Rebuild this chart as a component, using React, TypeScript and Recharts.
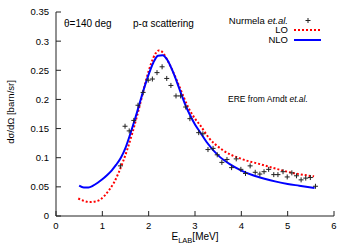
import React from 'react';
import { ComposedChart, Line, Scatter, XAxis, YAxis } from 'recharts';

// Nurmela et.al. data points (E_LAB in MeV, cross section in barn/sr)
const dataEnergy = [
  1.39, 1.49, 1.58, 1.68, 1.77, 1.88, 1.99, 2.08, 2.18, 2.29, 2.39, 2.48, 2.59, 2.69,
  2.8, 2.89, 3.08, 3.17, 3.28, 3.39, 3.48, 3.58, 3.69, 3.79, 3.89, 3.99, 4.09, 4.19,
  4.3, 4.4, 4.49, 4.59, 4.7, 4.79, 4.9, 4.99, 5.09, 5.19, 5.29, 5.39, 5.49, 5.6,
];
const dataSigma = [
  0.086, 0.154, 0.146, 0.164, 0.19, 0.212, 0.233, 0.235, 0.246, 0.256, 0.236, 0.224, 0.206, 0.206,
  0.187, 0.167, 0.143, 0.141, 0.114, 0.116, 0.105, 0.092, 0.097, 0.083, 0.098, 0.08, 0.073, 0.086,
  0.075, 0.072, 0.076, 0.08, 0.071, 0.071, 0.076, 0.067, 0.074, 0.069, 0.062, 0.065, 0.066, 0.051,
];

// LO curve
const loEnergy = [
  0.48, 0.6, 0.72, 0.85, 0.95, 1.05, 1.15, 1.25, 1.35, 1.45, 1.55, 1.65, 1.75, 1.85, 1.95,
  2.05, 2.15, 2.22, 2.3, 2.4, 2.5, 2.6, 2.7, 2.85, 3.0, 3.1, 3.3, 3.6, 4.0, 4.4, 4.8, 5.1, 5.57,
];
const loSigma = [
  0.03, 0.026, 0.024, 0.025, 0.028, 0.035, 0.045, 0.057, 0.074, 0.094, 0.117, 0.143, 0.172, 0.203, 0.235,
  0.261, 0.279, 0.284, 0.281, 0.268, 0.252, 0.234, 0.215, 0.187, 0.167, 0.157, 0.134, 0.113, 0.098, 0.089, 0.08, 0.074, 0.068,
];

// NLO curve
const nloEnergy = [
  0.5, 0.6, 0.7, 0.8, 0.9, 1.0, 1.1, 1.2, 1.3, 1.4, 1.5, 1.6, 1.7, 1.8, 1.9, 2.0, 2.1, 2.2,
  2.3, 2.4, 2.5, 2.6, 2.7, 2.8, 2.9, 3.0, 3.1, 3.25, 3.5, 3.75, 4.0, 4.25, 4.5, 4.75, 5.0, 5.25, 5.58,
];
const nloSigma = [
  0.052, 0.049, 0.049, 0.052, 0.057, 0.063, 0.07, 0.078, 0.088, 0.1, 0.117, 0.14, 0.165, 0.192, 0.219, 0.243, 0.263, 0.275,
  0.276, 0.268, 0.252, 0.232, 0.21, 0.189, 0.172, 0.157, 0.145, 0.127, 0.104, 0.089, 0.078, 0.07, 0.064, 0.059, 0.055, 0.052, 0.048,
];

const xTicks = [0, 1, 2, 3, 4, 5, 6];
const yTicks = [0, 0.05, 0.1, 0.15, 0.2, 0.25, 0.3, 0.35];

const toRows = (es: number[], vs: number[]) => es.map((e, i) => ({ e, v: vs[i] }));

const points = toRows(dataEnergy, dataSigma);
const lo = toRows(loEnergy, loSigma);
const nlo = toRows(nloEnergy, nloSigma);

const FONT = '"Liberation Sans", Arial, sans-serif';
const AXIS = '#222';

function Plus(props: any) {
  const { cx, cy } = props;
  if (cx == null || cy == null) return null;
  return (
    <path
      d={`M${cx - 2.5},${cy}h5M${cx},${cy - 2.5}v5`}
      stroke="#222"
      strokeWidth={1}
      fill="none"
    />
  );
}

const tickStyle = { fill: '#000', fontSize: 9.5, fontFamily: FONT };

export default function App() {
  return (
    <div style={{ position: 'absolute', left: 0, top: 0, width: 349, height: 245, fontFamily: FONT, color: '#000' }}>
      <ComposedChart width={349} height={245} margin={{ top: 12, right: 15, bottom: 0, left: 0 }}>
        <XAxis
          xAxisId="b"
          dataKey="e"
          type="number"
          domain={[0, 6]}
          ticks={xTicks}
          height={29}
          tickSize={-5}
          tickMargin={11}
          tick={tickStyle}
          stroke={AXIS}
          interval={0}
        />
        <XAxis
          xAxisId="t"
          orientation="top"
          type="number"
          domain={[0, 6]}
          ticks={xTicks}
          height={0}
          tickSize={-5}
          tickFormatter={() => ''}
          stroke={AXIS}
          interval={0}
        />
        <YAxis
          yAxisId="l"
          dataKey="v"
          type="number"
          domain={[0, 0.35]}
          ticks={yTicks}
          width={56}
          tickSize={-5}
          tickMargin={12}
          tick={tickStyle}
          stroke={AXIS}
          interval={0}
        />
        <YAxis
          yAxisId="r"
          orientation="right"
          type="number"
          domain={[0, 0.35]}
          ticks={yTicks}
          width={0}
          tickSize={-5}
          tickFormatter={() => ''}
          stroke={AXIS}
          interval={0}
        />
        <Line
          xAxisId="b"
          yAxisId="l"
          data={lo}
          dataKey="v"
          type="monotone"
          stroke="#ff0000"
          strokeWidth={2}
          strokeDasharray="2 2"
          dot={false}
          isAnimationActive={false}
        />
        <Line
          xAxisId="b"
          yAxisId="l"
          data={nlo}
          dataKey="v"
          type="monotone"
          stroke="#0000ff"
          strokeWidth={2}
          dot={false}
          isAnimationActive={false}
        />
        <Scatter
          xAxisId="b"
          yAxisId="l"
          data={points}
          dataKey="v"
          shape={Plus}
          isAnimationActive={false}
        />
      </ComposedChart>

      {/* annotations */}
      <div style={{ position: 'absolute', left: 64, top: 18, fontSize: 10, lineHeight: '12px', whiteSpace: 'nowrap' }}>
        θ=140 deg
      </div>
      <div style={{ position: 'absolute', left: 133, top: 18, fontSize: 10, lineHeight: '12px', whiteSpace: 'nowrap' }}>
        p-α scattering
      </div>
      <div style={{ position: 'absolute', left: 228, top: 93, fontSize: 8.5, lineHeight: '12px', whiteSpace: 'nowrap' }}>
        ERE from Arndt <i>et.al.</i>
      </div>

      {/* legend */}
      <div style={{ position: 'absolute', right: 349 - 288, top: 14.5, fontSize: 9.5, lineHeight: '12px', whiteSpace: 'nowrap', textAlign: 'right' }}>
        Nurmela <i>et.al.</i>
      </div>
      <div style={{ position: 'absolute', right: 349 - 288, top: 24, fontSize: 9.5, lineHeight: '12px', textAlign: 'right' }}>LO</div>
      <div style={{ position: 'absolute', right: 349 - 288, top: 34, fontSize: 9.5, lineHeight: '12px', textAlign: 'right' }}>NLO</div>
      <svg style={{ position: 'absolute', left: 0, top: 0 }} width={349} height={60}>
        <path d="M305.5,20.5h5M308,18v5" stroke="#222" strokeWidth={1} />
        <line x1={294} y1={30} x2={321} y2={30} stroke="#ff0000" strokeWidth={2} strokeDasharray="2 2" />
        <line x1={294} y1={40} x2={321} y2={40} stroke="#0000ff" strokeWidth={2} />
      </svg>

      {/* axis titles */}
      <div
        style={{
          position: 'absolute',
          left: 10,
          top: 112,
          fontSize: 9.5,
          whiteSpace: 'nowrap',
          transform: 'translate(-50%, -50%) rotate(-90deg)',
        }}
      >
        dσ/dΩ [barn/sr]
      </div>
      <div
        style={{
          position: 'absolute',
          left: 195,
          top: 237,
          fontSize: 10,
          lineHeight: '12px',
          whiteSpace: 'nowrap',
          transform: 'translate(-50%, -50%)',
        }}
      >
        E<span style={{ fontSize: 7.5, position: 'relative', top: 3 }}>LAB</span>[MeV]
      </div>
    </div>
  );
}
